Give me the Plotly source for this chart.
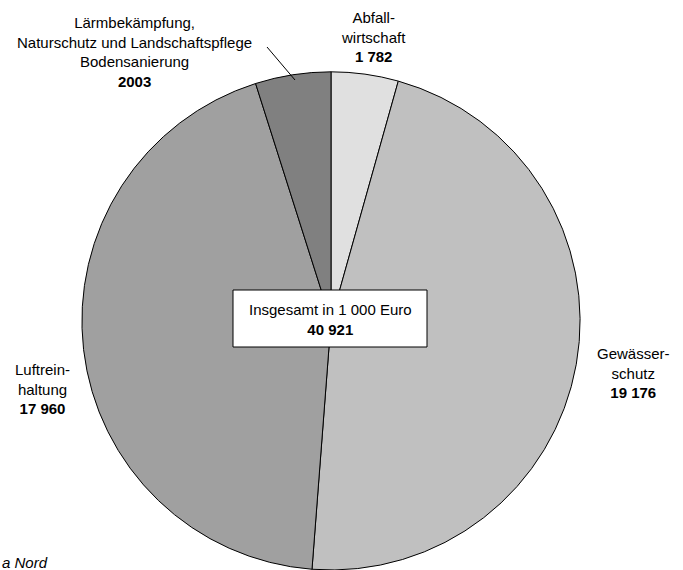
import plotly.graph_objects as go

W, H = 683, 570

categories = ["Abfallwirtschaft", "Gewässerschutz", "Luftreinhaltung",
              "Lärmbekämpfung, Naturschutz und Landschaftspflege Bodensanierung"]
values = [1782, 19176, 17960, 2003]
colors = ["#e0e0e0", "#c0c0c0", "#a0a0a0", "#808080"]
label_texts = [
    "Abfall-<br>wirtschaft<br><b>1 782</b>",
    "Gewässer-<br>schutz<br><b>19 176</b>",
    "Luftrein-<br>haltung<br><b>17 960</b>",
    "Lärmbekämpfung,<br>Naturschutz und Landschaftspflege<br>Bodensanierung<br><b>2003</b>",
]
total_text = "Insgesamt in 1 000 Euro<br><b>40 921</b>"
source_text = "a Nord"


def px(x):
    return x / W


def py(y):
    return 1 - y / H


FONT = "Liberation Sans, Arial, sans-serif"

fig = go.Figure()
fig.add_trace(go.Pie(
    labels=categories,
    values=values,
    sort=False,
    direction="clockwise",
    rotation=0,
    marker=dict(colors=colors, line=dict(color="#000000", width=1)),
    textinfo="none",
    hoverinfo="skip",
    showlegend=False,
    domain=dict(x=[px(81), px(581)], y=[0, 0.874]),
))

# label positions (pixel centres)
label_pos = [(373, 37), (633, 373), (42, 389), (134, 52)]
annotations = []
for txt, (lx, ly) in zip(label_texts, label_pos):
    annotations.append(dict(
        x=px(lx), y=py(ly), xref="paper", yref="paper",
        text=txt, showarrow=False, xanchor="center", yanchor="middle",
        align="center", font=dict(family=FONT, size=15, color="#000000"),
    ))

annotations.append(dict(
    x=px(330), y=py(319), xref="paper", yref="paper",
    text=total_text, showarrow=False, xanchor="center", yanchor="middle",
    align="center", font=dict(family=FONT, size=15, color="#000000"),
))

annotations.append(dict(
    x=px(0), y=py(562), xref="paper", yref="paper",
    text="<i>" + source_text + "</i>", showarrow=False,
    xanchor="left", yanchor="middle",
    font=dict(family=FONT, size=15, color="#000000"),
))

shapes = [
    dict(type="rect", xref="paper", yref="paper",
         x0=px(233), x1=px(427), y0=py(347), y1=py(290),
         line=dict(color="#000000", width=1), fillcolor="#ffffff", layer="above"),
    dict(type="line", xref="paper", yref="paper",
         x0=px(267), y0=py(47), x1=px(295), y1=py(80),
         line=dict(color="#000000", width=1), layer="above"),
]

fig.update_layout(
    width=W, height=H,
    margin=dict(l=0, r=0, t=0, b=0),
    paper_bgcolor="#ffffff",
    plot_bgcolor="#ffffff",
    annotations=annotations,
    shapes=shapes,
)

fig.write_html("out.html")
